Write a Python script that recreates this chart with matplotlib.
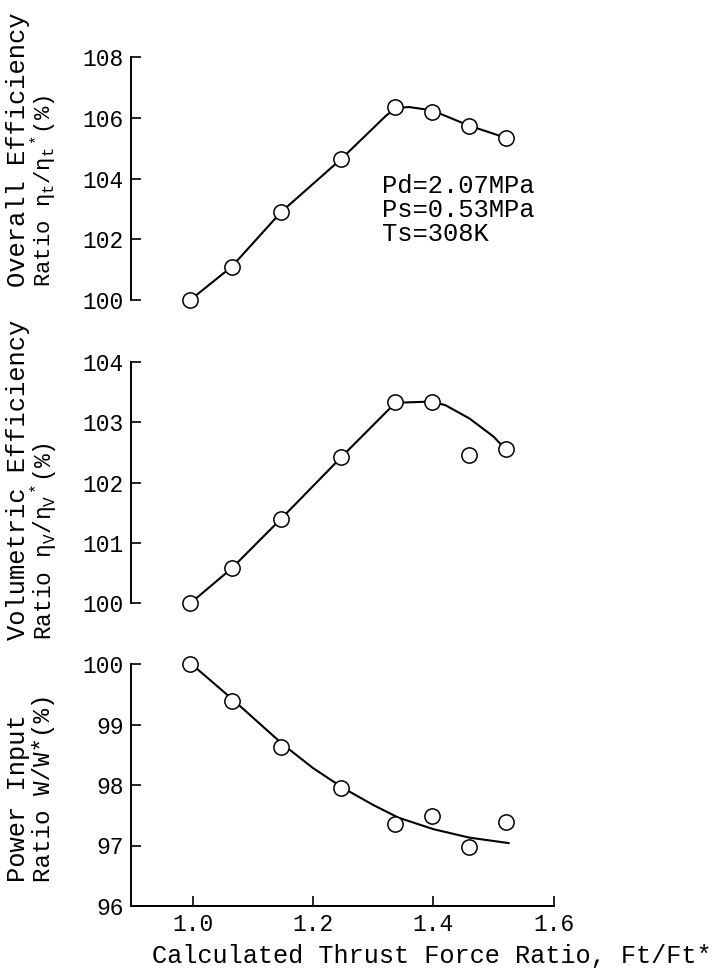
import matplotlib
matplotlib.use('Agg')
import matplotlib.pyplot as plt

plt.rcParams['font.family'] = ['Liberation Mono', 'DejaVu Sans Mono']
plt.rcParams['mathtext.fontset'] = 'custom'
plt.rcParams['mathtext.rm'] = 'Liberation Mono'
plt.rcParams['mathtext.it'] = 'Liberation Mono'

# measured points, thrust force ratio Ft/Ft*
thrust = [0.996, 1.065, 1.147, 1.247, 1.337, 1.398, 1.459, 1.520]
overall_eff = [100.0, 101.1, 102.9, 104.65, 106.35, 106.2, 105.75, 105.35]
volumetric_eff = [100.0, 100.58, 101.4, 102.42, 103.34, 103.34, 102.45, 102.55]
power_input = [100.0, 99.39, 98.63, 97.95, 97.36, 97.48, 96.97, 97.39]

# hand-drawn trend curves
overall_curve_x = [0.996, 1.065, 1.147, 1.247, 1.32, 1.337, 1.36, 1.398, 1.459, 1.520]
overall_curve_y = [100.0, 101.1, 102.9, 104.65, 106.05, 106.33, 106.36, 106.25, 105.75, 105.35]
vol_curve_x = [0.996, 1.065, 1.147, 1.247, 1.30, 1.337, 1.398, 1.42, 1.46, 1.50, 1.520]
vol_curve_y = [100.0, 100.58, 101.4, 102.42, 102.95, 103.32, 103.34, 103.28, 103.06, 102.76, 102.55]
power_curve_x = [0.998, 1.068, 1.150, 1.20, 1.250, 1.30, 1.342, 1.40, 1.46, 1.525]
power_curve_y = [100.0, 99.4, 98.67, 98.28, 97.95, 97.67, 97.46, 97.27, 97.13, 97.04]

x_ticks = [1.0, 1.2, 1.4, 1.6]
x_ticklabels = ['1.0', '1.2', '1.4', '1.6']

panels = [
    ('Overall Efficiency', r'Ratio $\eta_t/\eta_t{}^*$(%)', overall_eff,
     overall_curve_x, overall_curve_y, (100, 108), [100, 102, 104, 106, 108]),
    ('Volumetric Efficiency', r'Ratio $\eta_V/\eta_V{}^*$(%)', volumetric_eff,
     vol_curve_x, vol_curve_y, (100, 104), [100, 101, 102, 103, 104]),
    ('Power Input', 'Ratio W/W*(%)', power_input,
     power_curve_x, power_curve_y, (96, 100), [96, 97, 98, 99, 100]),
]

fig = plt.figure(figsize=(7.28, 9.76), dpi=100)
W, H = 728.0, 976.0
left, right = 130.7, 553.7
# (top px, bottom px) of each panel, label bottom px, size of second label line
boxes = [(57.3, 300.0, 287.0, 16), (361.7, 603.3, 640.0, 16.5), (664.0, 906.0, 882.0, 17.5)]

for i, (line1, line2, ys, cx, cy, ylim, yticks) in enumerate(panels):
    top, bot, lab_bot, fs2 = boxes[i]
    ax = fig.add_axes([left / W, 1 - bot / H, (right - left) / W, (bot - top) / H])
    ax.plot(cx, cy, color='black', lw=1.5, zorder=2, clip_on=False)
    ax.plot(thrust, ys, 'o', ms=11, mfc='white', mec='black', mew=1.1,
            zorder=3, clip_on=False)
    ax.set_xlim(0.897, 1.6)
    ax.set_ylim(*ylim)
    ax.set_yticks(yticks)
    ax.tick_params(axis='y', direction='in', length=7, width=1.2, labelsize=16.5, pad=5)
    for s in ('top', 'right'):
        ax.spines[s].set_visible(False)
    ax.spines['left'].set_linewidth(1.4)
    if i < 2:
        ax.spines['bottom'].set_visible(False)
        ax.set_xticks([])
    else:
        ax.spines['bottom'].set_linewidth(1.4)
        ax.set_xticks(x_ticks)
        ax.set_xticklabels(x_ticklabels)
        ax.tick_params(axis='x', direction='in', length=7, width=1.2, labelsize=16.5, pad=5)
    fig.text(18 / W, 1 - lab_bot / H, line1, rotation=90, ha='center', va='bottom',
             fontsize=18.4)
    fig.text(44 / W, 1 - lab_bot / H, line2, rotation=90, ha='center', va='bottom',
             fontsize=fs2)
    if i == 0:
        ax.text(0.595, 0.371, 'Pd=2.07MPa\nPs=0.53MPa\nTs=308K', transform=ax.transAxes,
                ha='left', va='center', fontsize=18.4, linespacing=1.0)

fig.text(152 / W, 1 - 956 / H, 'Calculated Thrust Force Ratio, Ft/Ft*',
         ha='left', va='center', fontsize=18.2)

fig.savefig('out.png', dpi=100, facecolor='white')
